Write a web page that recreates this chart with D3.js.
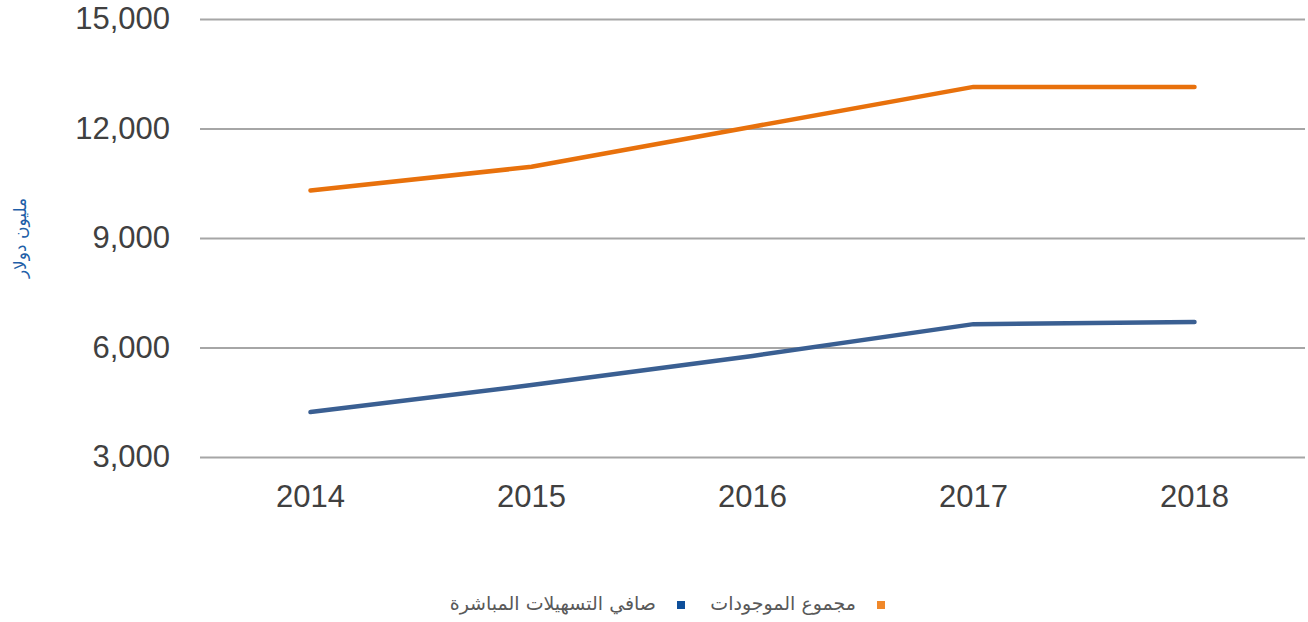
<!DOCTYPE html>
<html>
<head>
<meta charset="utf-8">
<script src="https://cdn.jsdelivr.net/npm/d3@7"></script>
<style>
  body { margin: 0; background: #fff; }
  svg { display: block; }
</style>
</head>
<body>
<div id="chart"></div>
<script>
// data
var years = ["2014", "2015", "2016", "2017", "2018"];
var totalAssets = [10300, 10950, 12050, 13140, 13140];   // مجموع الموجودات
var netFacilities = [4230, 4970, 5770, 6640, 6700];     // صافي التسهيلات المباشرة
var yTicks = [3000, 6000, 9000, 12000, 15000];
var seriesNames = ["مجموع الموجودات", "صافي التسهيلات المباشرة"];

var W = 1308, H = 622;
var margin = {top: 19, right: 3, bottom: 165, left: 200},
    width = W - margin.left - margin.right,
    height = H - margin.top - margin.bottom;

var svg = d3.select("#chart")
  .append("svg")
    .attr("width", W)
    .attr("height", H);

var g = svg.append("g")
    .attr("transform", "translate(" + margin.left + "," + margin.top + ")");

var x = d3.scaleBand()
  .domain(years)
  .range([0, width])
  .padding(0);

var y = d3.scaleLinear()
  .domain([3000, 15000])
  .range([height, 0]);

// gridlines + y labels
var yAxis = g.append("g")
  .call(d3.axisLeft(y)
    .tickValues(yTicks)
    .tickSize(-width)
    .tickPadding(30)
    .tickFormat(d3.format(",")));
yAxis.select(".domain").remove();
yAxis.selectAll("line")
  .attr("stroke", "#a6a6a6")
  .attr("stroke-width", 2);
yAxis.selectAll("text")
  .attr("fill", "#404040")
  .style("font-family", "'Liberation Sans', Arial, sans-serif")
  .style("font-size", "31px");

// x labels
var xAxis = g.append("g")
  .attr("transform", "translate(0," + height + ")")
  .call(d3.axisBottom(x).tickSize(0).tickPadding(28));
xAxis.select(".domain").remove();
xAxis.selectAll("text")
  .attr("fill", "#404040")
  .style("font-family", "'Liberation Sans', Arial, sans-serif")
  .style("font-size", "31px");

// lines
var line = d3.line()
  .x(function(d, i) { return x(years[i]) + x.bandwidth() / 2; })
  .y(function(d) { return y(d); });

g.append("path")
  .datum(netFacilities)
  .attr("fill", "none")
  .attr("stroke", "#3a5f92")
  .attr("stroke-width", 4.5)
  .attr("stroke-linecap", "round")
  .attr("stroke-linejoin", "round")
  .attr("d", line);

g.append("path")
  .datum(totalAssets)
  .attr("fill", "none")
  .attr("stroke", "#e8710c")
  .attr("stroke-width", 4.5)
  .attr("stroke-linecap", "round")
  .attr("stroke-linejoin", "round")
  .attr("d", line);

// y axis title
svg.append("text")
  .attr("transform", "translate(21,238) rotate(-90)")
  .attr("text-anchor", "middle")
  .attr("dominant-baseline", "middle")
  .attr("fill", "#1f5fa8")
  .style("font-family", "'DejaVu Sans', sans-serif")
  .style("font-size", "17px")
  .text("مليون دولار");

// legend (right to left)
var legend = [
  {name: seriesNames[0], color: "#f0882a", sq: 877},
  {name: seriesNames[1], color: "#0e4f9a", sq: 677}
];
var lg = svg.append("g");
legend.forEach(function(l) {
  lg.append("rect")
    .attr("x", l.sq)
    .attr("y", 601)
    .attr("width", 8)
    .attr("height", 8)
    .attr("fill", l.color);
  lg.append("text")
    .attr("x", l.sq - 21)
    .attr("y", 604)
    .attr("text-anchor", "end")
    .attr("dominant-baseline", "middle")
    .attr("fill", "#595959")
    .style("font-family", "'DejaVu Sans', sans-serif")
    .style("font-size", "19px")
    .text(l.name);
});
</script>
</body>
</html>
